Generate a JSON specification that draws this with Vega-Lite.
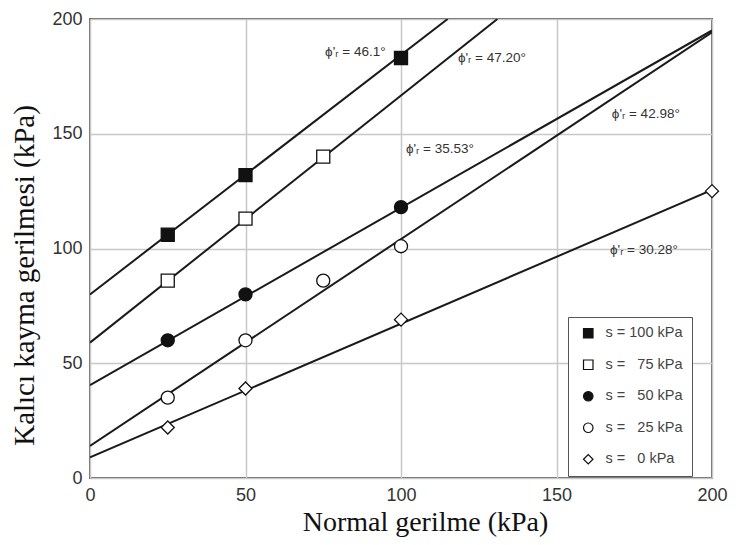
{
  "$schema": "https://vega.github.io/schema/vega-lite/v6.json",
  "width": 622,
  "height": 459,
  "autosize": {"type": "none"},
  "padding": {"left": 90, "top": 19, "right": 25, "bottom": 67},
  "background": "white",
  "datasets": {
    "points": [
      {"s": "s = 100 kPa", "x": 25, "y": 106},
      {"s": "s = 100 kPa", "x": 50, "y": 132},
      {"s": "s = 100 kPa", "x": 100, "y": 183},
      {"s": "s = \u200775 kPa", "x": 25, "y": 86},
      {"s": "s = \u200775 kPa", "x": 50, "y": 113},
      {"s": "s = \u200775 kPa", "x": 75, "y": 140},
      {"s": "s = \u200750 kPa", "x": 25, "y": 60},
      {"s": "s = \u200750 kPa", "x": 50, "y": 80},
      {"s": "s = \u200750 kPa", "x": 100, "y": 118},
      {"s": "s = \u200725 kPa", "x": 25, "y": 35},
      {"s": "s = \u200725 kPa", "x": 50, "y": 60},
      {"s": "s = \u200725 kPa", "x": 75, "y": 86},
      {"s": "s = \u200725 kPa", "x": 100, "y": 101},
      {"s": "s = \u20070 kPa", "x": 25, "y": 22},
      {"s": "s = \u20070 kPa", "x": 50, "y": 39},
      {"s": "s = \u20070 kPa", "x": 100, "y": 69},
      {"s": "s = \u20070 kPa", "x": 200, "y": 125}
    ],
    "lines": [
      {"s": "100", "x": 0, "y": 80},
      {"s": "100", "x": 115, "y": 200},
      {"s": "75", "x": 0, "y": 59},
      {"s": "75", "x": 131, "y": 200},
      {"s": "50", "x": 0, "y": 40.5},
      {"s": "50", "x": 200, "y": 195},
      {"s": "25", "x": 0, "y": 14},
      {"s": "25", "x": 200, "y": 194.2},
      {"s": "0", "x": 0, "y": 9},
      {"s": "0", "x": 200, "y": 125.5}
    ],
    "labels": [
      {"x": 75.6, "y": 185.6, "t": "ϕ'ᵣ = 46.1°"},
      {"x": 118.3, "y": 183, "t": "ϕ'ᵣ = 47.20°"},
      {"x": 101.6, "y": 143.4, "t": "ϕ'ᵣ = 35.53°"},
      {"x": 167.8, "y": 158.6, "t": "ϕ'ᵣ = 42.98°"},
      {"x": 167.2, "y": 99.3, "t": "ϕ'ᵣ = 30.28°"}
    ]
  },
  "encoding": {
    "x": {
      "field": "x", "type": "quantitative",
      "scale": {"domain": [0, 200], "nice": false, "zero": false},
      "axis": {"values": [0, 50, 100, 150, 200], "labelFlush": false, "title": "Normal gerilme (kPa)", "titleFontSize": 28, "titleX": 335, "titleY": 44, "titleBaseline": "middle"}
    },
    "y": {
      "field": "y", "type": "quantitative",
      "scale": {"domain": [0, 200], "nice": false, "zero": false},
      "axis": {"values": [0, 50, 100, 150, 200], "labelFlush": false, "title": "Kalıcı kayma gerilmesi (kPa)", "titleFontSize": 29, "titleX": -66, "titleY": 256, "titleBaseline": "middle", "titleAngle": -90, "titleAlign": "center"}
    }
  },
  "layer": [
    {
      "data": {"name": "lines"},
      "mark": {"type": "line", "color": "#1a1a1a", "strokeWidth": 2, "clip": true},
      "encoding": {
        "detail": {"field": "s", "type": "nominal"}
      }
    },
    {
      "data": {"name": "points"},
      "mark": {"type": "point", "strokeWidth": 1.3, "opacity": 1, "size": 170, "clip": false},
      "encoding": {
        "shape": {
          "field": "s", "type": "nominal",
          "scale": {"domain": ["s = 100 kPa", "s = \u200775 kPa", "s = \u200750 kPa", "s = \u200725 kPa", "s = \u20070 kPa"], "range": ["square", "square", "circle", "circle", "diamond"]},
          "legend": {"title": null, "orient": "none", "legendX": 478, "legendY": 298, "strokeColor": "#555", "fillColor": "white", "padding": 9, "symbolOffset": 4, "labelOffset": 10, "labelFontSize": 14.5, "labelFont": "Liberation Sans", "labelColor": "#444", "symbolSize": 90, "rowPadding": 15.5, "symbolStrokeWidth": 1.2}
        },
        "fill": {
          "field": "s", "type": "nominal",
          "scale": {"domain": ["s = 100 kPa", "s = \u200775 kPa", "s = \u200750 kPa", "s = \u200725 kPa", "s = \u20070 kPa"], "range": ["#111111", "#ffffff", "#111111", "#ffffff", "#ffffff"]},
          "legend": {"title": null, "orient": "none", "legendX": 478, "legendY": 298, "strokeColor": "#555", "fillColor": "white", "padding": 9, "symbolOffset": 4, "labelOffset": 10, "labelFontSize": 14.5, "labelFont": "Liberation Sans", "labelColor": "#444", "symbolSize": 90, "rowPadding": 15.5, "symbolStrokeWidth": 1.2}
        },
        "stroke": {
          "field": "s", "type": "nominal",
          "scale": {"domain": ["s = 100 kPa", "s = \u200775 kPa", "s = \u200750 kPa", "s = \u200725 kPa", "s = \u20070 kPa"], "range": ["#111111", "#111111", "#111111", "#111111", "#111111"]},
          "legend": {"title": null, "orient": "none", "legendX": 478, "legendY": 298, "strokeColor": "#555", "fillColor": "white", "padding": 9, "symbolOffset": 4, "labelOffset": 10, "labelFontSize": 14.5, "labelFont": "Liberation Sans", "labelColor": "#444", "symbolSize": 90, "rowPadding": 15.5, "symbolStrokeWidth": 1.2}
        }
      }
    },
    {
      "data": {"name": "labels"},
      "mark": {"type": "text", "align": "left", "baseline": "middle", "font": "Liberation Sans", "fontSize": 13.5, "color": "#333"},
      "encoding": {
        "text": {"field": "t", "type": "nominal"}
      }
    }
  ],
  "config": {
    "view": {"stroke": "#666", "strokeWidth": 2},
    "axis": {
      "gridColor": "#c8c8c8", "gridWidth": 1.5, "domain": false, "ticks": false,
      "labelFont": "Liberation Sans", "labelFontSize": 18, "labelColor": "#333", "labelPadding": 8,
      "titleFont": "Liberation Serif", "titleFontWeight": "normal", "titleColor": "#111"
    }
  }
}
